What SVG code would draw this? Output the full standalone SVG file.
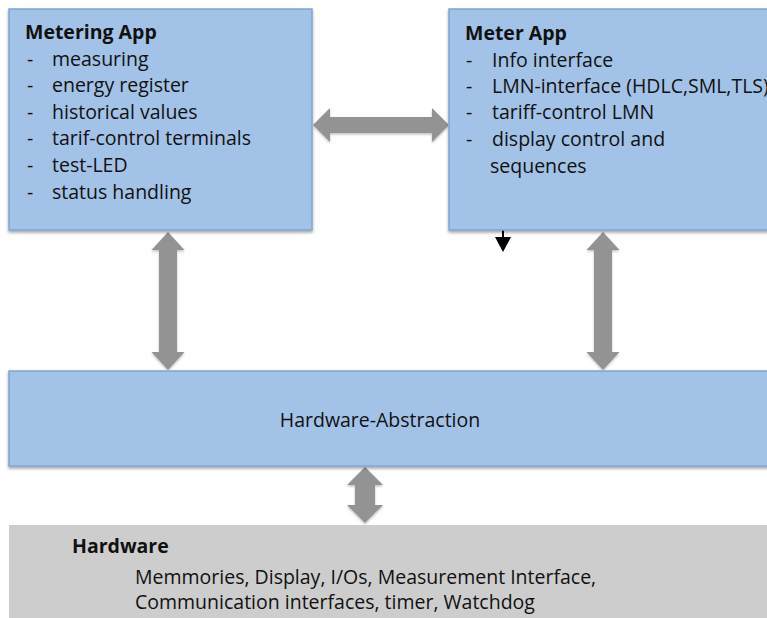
<svg xmlns="http://www.w3.org/2000/svg" width="767" height="618" viewBox="0 0 767 618">
<defs>
<filter id="sh" x="-5%" y="-5%" width="110%" height="115%">
<feDropShadow dx="0" dy="2" stdDeviation="1.5" flood-color="#000" flood-opacity="0.35"/>
</filter>
<filter id="ash" x="-20%" y="-20%" width="140%" height="140%">
<feDropShadow dx="0" dy="1.5" stdDeviation="1.2" flood-color="#000" flood-opacity="0.25"/>
</filter>
</defs>
<style>
.box{fill:#a3c2e7;stroke:#7ea5d5;stroke-width:1.5;filter:url(#sh)}
.hw{fill:#cdcdcd;stroke:none}
.t{font-family:"Open Sans","Liberation Sans",Arial,sans-serif;font-size:19.5px;fill:#111}
.b{font-weight:bold}
.arr{fill:#939393;filter:url(#ash)}
</style>
<g id="connectors">
<polygon class="arr" points="313,125 330,108 330,117 432,117 432,108 449,125 432,142 432,133 330,133 330,142"/>
<polygon class="arr" points="168,232 184.5,250 177,250 177,352 184.5,352 168,370 151.5,352 159,352 159,250 151.5,250"/>
<polygon class="arr" points="603,232 619.5,250 612,250 612,352 619.5,352 603,370 586.5,352 594,352 594,250 586.5,250"/>
<polygon class="arr" points="365,467 383,485 375,485 375,505 383,505 365,523 347,505 355,505 355,485 347,485"/>
<g id="small-arrow">
<line x1="503" y1="229" x2="503" y2="238" stroke="#000" stroke-width="2"/>
<polygon points="495,237 511,237 503,252" fill="#000"/>
</g>
</g>
<g id="metering-app">
<rect class="box" x="9" y="9" width="303" height="221"/>
<text class="t b" x="25" y="39">Metering App</text>
<text class="t" x="27" y="66">-</text><text class="t" x="52" y="66">measuring</text>
<text class="t" x="27" y="92">-</text><text class="t" x="52" y="92">energy register</text>
<text class="t" x="27" y="119">-</text><text class="t" x="52" y="119">historical values</text>
<text class="t" x="27" y="145">-</text><text class="t" x="52" y="145">tarif-control terminals</text>
<text class="t" x="27" y="172">-</text><text class="t" x="52" y="172">test-LED</text>
<text class="t" x="27" y="199">-</text><text class="t" x="52" y="199">status handling</text>
</g>
<g id="meter-app">
<rect class="box" x="449" y="9" width="330" height="221"/>
<text class="t b" x="465" y="40">Meter App</text>
<text class="t" x="466" y="67">-</text><text class="t" x="492" y="67">Info interface</text>
<text class="t" x="466" y="93">-</text><text class="t" x="492" y="93">LMN-interface (HDLC,SML,TLS)</text>
<text class="t" x="466" y="119">-</text><text class="t" x="492" y="119">tariff-control LMN</text>
<text class="t" x="466" y="146">-</text><text class="t" x="492" y="146">display control and</text>
<text class="t" x="490" y="173">sequences</text>
</g>
<g id="hardware-abstraction">
<rect class="box" x="9" y="371" width="770" height="95"/>
<text class="t" x="380" y="427" text-anchor="middle">Hardware-Abstraction</text>
</g>
<g id="hardware">
<rect class="hw" x="9" y="525" width="770" height="100"/>
<text class="t b" x="72" y="553">Hardware</text>
<text class="t" x="135" y="584">Memmories, Display, I/Os, Measurement Interface,</text>
<text class="t" x="135" y="609">Communication interfaces, timer, Watchdog</text>
</g>
</svg>
